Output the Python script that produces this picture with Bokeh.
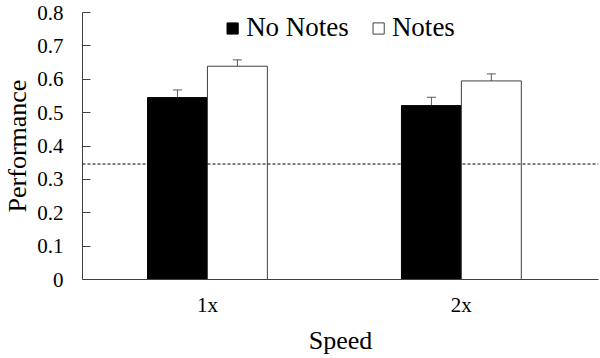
from bokeh.plotting import figure
from bokeh.models import (Range1d, FixedTicker, Span, Whisker, ColumnDataSource,
                          Legend, LegendItem, TeeHead)
from bokeh.embed import file_html
from bokeh.resources import INLINE

# ---- data ----
speeds = ["1x", "2x"]
no_notes = [0.545, 0.521]
no_notes_err = [0.023, 0.025]
notes = [0.639, 0.595]
notes_err = [0.019, 0.021]
chance_level = 0.346
y_ticks = [0, 0.1, 0.2, 0.3, 0.4, 0.5, 0.6, 0.7, 0.8]
y_tick_labels = ["0", "0.1", "0.2", "0.3", "0.4", "0.5", "0.6", "0.7", "0.8"]

FONT = "Liberation Serif"
TICK_FONT = "'Liberation Serif', serif"
AX = "#404040"

xpos = [i + 0.5 for i in range(len(speeds))]
off = 0.118
bw = 0.236

p = figure(width=600, height=358, output_backend="svg", toolbar_location=None,
           x_range=Range1d(0.008, 2.04), y_range=Range1d(0, 0.8),
           min_border_left=82, min_border_right=2, min_border_top=12,
           min_border_bottom=79)
p.outline_line_color = None
p.xgrid.visible = False
p.ygrid.visible = False
p.background_fill_color = "white"
p.border_fill_color = "white"

x_nn = [x - off for x in xpos]
x_n = [x + off for x in xpos]

r1 = p.vbar(x=x_nn, top=no_notes, width=bw, fill_color="black", line_color="black")
r2 = p.vbar(x=x_n, top=notes, width=bw, fill_color="white", line_color=AX, line_width=1)

for xs, vals, errs in ((x_nn, no_notes, no_notes_err), (x_n, notes, notes_err)):
    src = ColumnDataSource(dict(base=xs,
                                upper=[v + e for v, e in zip(vals, errs)],
                                lower=[v - e for v, e in zip(vals, errs)]))
    w = Whisker(source=src, base="base", upper="upper", lower="lower",
                line_color="#595959", line_width=1,
                upper_head=TeeHead(size=9, line_color="#595959", line_width=1),
                lower_head=TeeHead(size=9, line_color="#595959", line_width=1))
    p.add_layout(w)

p.add_layout(Span(location=chance_level, dimension="width", line_color="black",
                  line_width=1, line_dash="3 2"))

# axes
ya = p.yaxis[0]
ya.ticker = FixedTicker(ticks=y_ticks)
ya.major_label_overrides = dict(zip(y_ticks, y_tick_labels))
ya.axis_label = "Performance"
ya.major_tick_in = 8
ya.major_tick_out = 0
ya.minor_tick_line_color = None
ya.axis_line_color = AX
ya.major_tick_line_color = AX
ya.major_label_standoff = 19
ya.axis_label_standoff = 2

xa = p.xaxis[0]
xa.ticker = FixedTicker(ticks=xpos)
xa.major_label_overrides = dict(zip(xpos, speeds))
xa.axis_label = "Speed"
xa.major_tick_in = 0
xa.major_tick_out = 0
xa.minor_tick_line_color = None
xa.axis_line_color = AX
xa.major_label_standoff = 13
xa.axis_label_standoff = 6

for a in (xa, ya):
    a.major_label_text_font = TICK_FONT
    a.major_label_text_font_size = "21px"
    a.major_label_text_color = "black"
    a.axis_label_text_font = FONT
    a.axis_label_text_font_size = "26px"
    a.axis_label_text_font_style = "normal"
    a.axis_label_text_color = "black"

legend = Legend(items=[LegendItem(label="No Notes", renderers=[r1]),
                       LegendItem(label="Notes", renderers=[r2])],
                orientation="horizontal", location="top_center",
                border_line_color=None, background_fill_alpha=0,
                padding=0, margin=0, spacing=22, label_standoff=7,
                glyph_width=14, glyph_height=14,
                label_text_font=FONT, label_text_font_size="27px",
                label_text_color="black")
p.add_layout(legend, "center")

open("out.html", "w").write(file_html(p, INLINE))
